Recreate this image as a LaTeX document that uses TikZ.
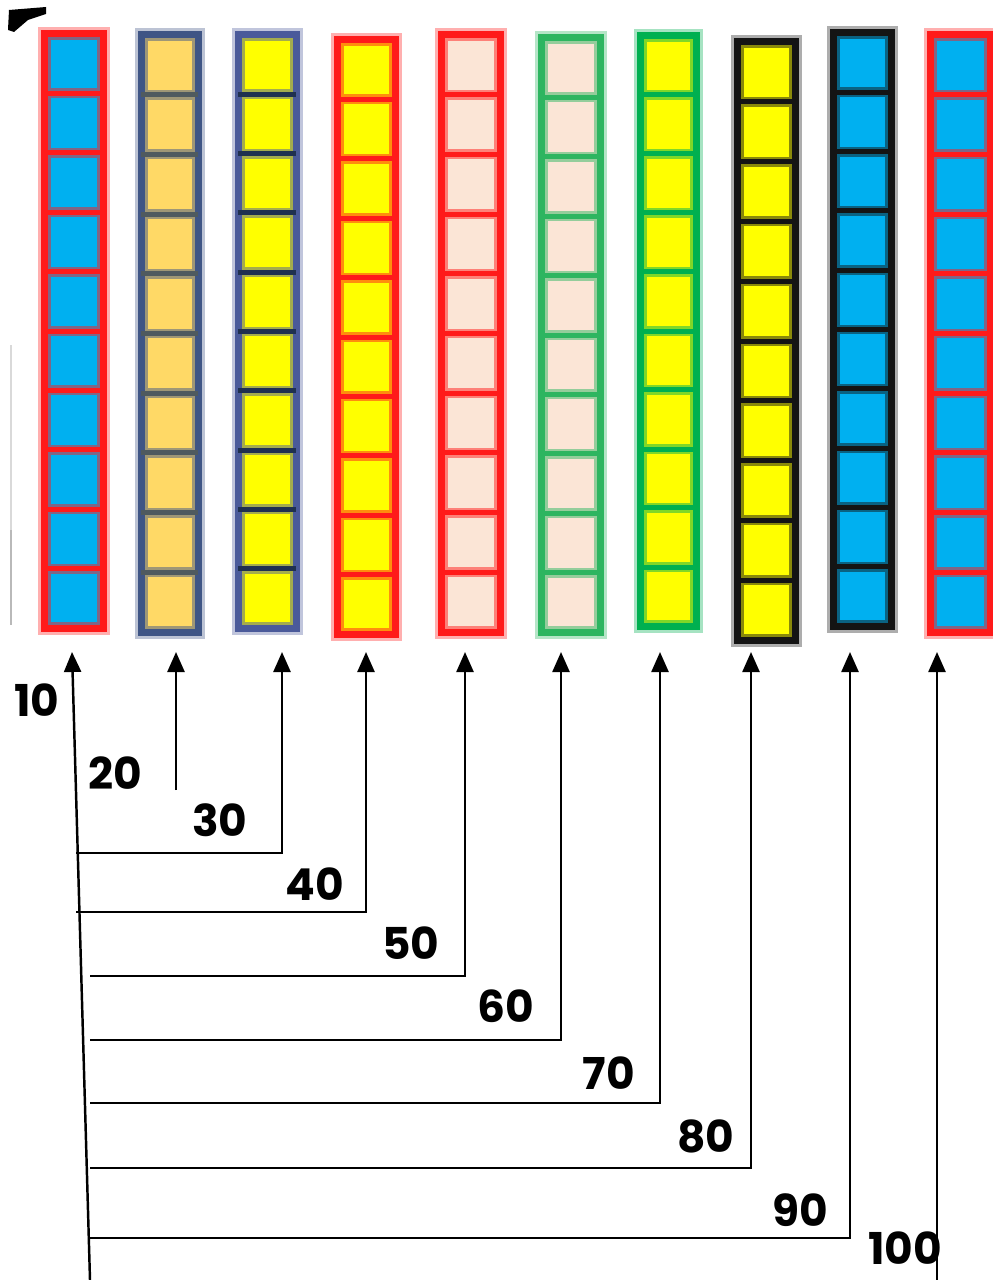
\documentclass[tikz,border=0pt]{standalone}
\usepackage{fontspec}
\setmainfont{Poppins}
\usetikzlibrary{arrows.meta, calc, positioning}

\definecolor{cellcyan}{HTML}{00B0F0}
\definecolor{cellgold}{HTML}{FFD966}
\definecolor{cellyellow}{HTML}{FFFF00}
\definecolor{cellpeach}{HTML}{FBE5D6}
\definecolor{edgered}{HTML}{FF1A1A}
\definecolor{edgeslate}{HTML}{3F5585}
\definecolor{edgenavy}{HTML}{4A5A9A}
\definecolor{edgegreen}{HTML}{2DB560}
\definecolor{edgelime}{HTML}{00B050}
\definecolor{edgeblack}{HTML}{141414}
\definecolor{rulegray}{HTML}{4F5A5F}
\definecolor{rulenavy}{HTML}{1F3050}

\begin{document}
\begin{tikzpicture}[
    x=0.02cm, y=-0.02cm,
    colbox/.style={rectangle, inner sep=0pt, outer sep=0pt, line width=0.14cm},
    divider/.style={line width=0.1cm},
    arrow/.style={-{Triangle[length=0.4cm 0, width=0.34cm 0]}, line width=1.4pt, draw=black},
    tag/.style={font=\fontsize{25}{30}\selectfont\bfseries, inner sep=0pt}
]
\useasboundingbox (0,0) rectangle (992,1280);

% Stray marks at the left edge
\fill[black] (9,10) -- (46,7) -- (46,14) -- (28,20) -- (14,32) -- (8,30) -- cycle;
\draw[gray!30, line width=0.06cm] (11,345) -- (11,530);
\draw[gray!55, line width=0.06cm] (11,530) -- (11,625);

% Columns of ten cells
\foreach \i/\xl/\xr/\yt/\yb/\bc/\fc/\dc in {
    1/44/103/34/628/edgered/cellcyan/edgered,
    2/141/198/35/632/edgeslate/cellgold/rulegray,
    3/238/296/35/628/edgenavy/cellyellow/rulenavy,
    4/337/395/40/634/edgered/cellyellow/edgered,
    5/441/500/35/632/edgered/cellpeach/edgered,
    6/541/600/38/632/edgegreen/cellpeach/edgegreen,
    7/640/696/36/626/edgelime/cellyellow/edgelime,
    8/737/795/42/640/edgeblack/cellyellow/edgeblack,
    9/833/891/33/626/edgeblack/cellcyan/edgeblack,
    10/930/990/35/632/edgered/cellcyan/edgered} {
  \node[colbox, draw=\bc, fill=\fc, preaction={draw=\bc!35, line width=0.26cm},
        minimum width=(\xr-\xl)*0.02cm, minimum height=(\yb-\yt)*0.02cm]
        (col\i) at ({(\xl+\xr)/2},{(\yt+\yb)/2}) {};
  \draw[\bc!50!\fc, line width=0.06cm]
        ($(col\i.north west)+(5,5)$) rectangle ($(col\i.south east)+(-5,-5)$);
  \foreach \k in {1,...,9} {
    \draw[\bc!50!\fc, line width=0.2cm, shorten <=0.07cm, shorten >=0.07cm]
          ($(col\i.north west)!\k/10!(col\i.south west)$) -- ($(col\i.north east)!\k/10!(col\i.south east)$);
    \draw[divider, draw=\dc]
          ($(col\i.north west)!\k/10!(col\i.south west)$) -- ($(col\i.north east)!\k/10!(col\i.south east)$);
  }
}

% Arrow tips below the columns
\foreach \i/\ax in {1/72, 2/176, 3/282, 4/366, 5/465, 6/561, 7/660, 8/751, 9/850, 10/937}
  \coordinate (tip\i) at (\ax,652);

% Labels
\node[tag] (lab10) at (37,700) {10};
\node[tag] (lab20) at (115,773) {20};
\node[tag] (lab30) at (220,820) {30};
\node[tag] (lab40) at (315,884) {40};
\node[tag] (lab50) at (411,943) {50};
\node[tag] (lab60) at (506,1006) {60};
\node[tag] (lab70) at (609,1073) {70};
\node[tag] (lab80) at (706,1136) {80};
\node[tag] (lab90) at (800,1210) {90};
\node[tag] (lab100) at (905,1248) {100};

% Connectors
\coordinate (foot1) at (90,1280);
\coordinate (foot2) at (176,790);
\coordinate (foot10) at (937,1280);
\draw[arrow] (foot1) -- (tip1);
\draw[arrow] (foot2) -- (tip2);
\draw[arrow] (foot10) -- (tip10);
\foreach \i/\ax/\hy/\sx in {3/282/853/76, 4/366/912/76, 5/465/976/90, 6/561/1040/90,
                            7/660/1103/90, 8/751/1168/90, 9/850/1238/90} {
  \coordinate (start\i) at (\sx,\hy);
  \coordinate (corner\i) at (\ax,\hy);
  \draw[arrow] (start\i) -- (corner\i) -- (tip\i);
}
\end{tikzpicture}
\end{document}
